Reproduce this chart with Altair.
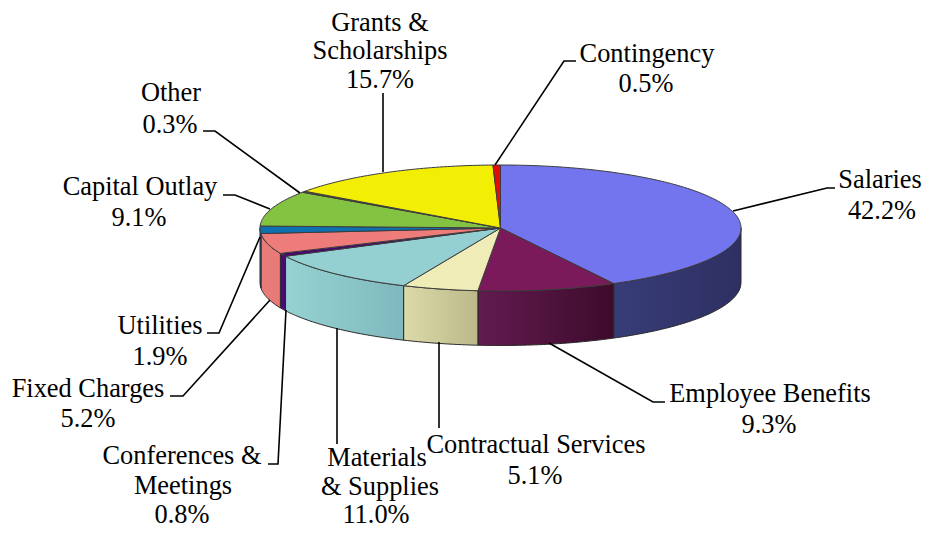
import math
import altair as alt
import pandas as pd

categories = ["Salaries", "Employee Benefits", "Contractual Services", "Materials & Supplies",
              "Conferences & Meetings", "Fixed Charges", "Utilities", "Capital Outlay",
              "Other", "Grants & Scholarships", "Contingency"]
# slice sizes as drawn in the picture (the Grants slice is drawn a little smaller than its label)
shares = [42.2, 9.3, 5.1, 11.0, 0.8, 5.2, 1.9, 9.1, 0.3, 14.6, 0.5]
top_colors = ["#7375ee", "#7a1a5a", "#efecb8", "#94cfd2", "#48066f", "#ee7c7a",
              "#0f70b0", "#84c241", "#6a5a30", "#f2ef05", "#e50c0c"]
wall_left = ["#383d78", "#621b50", "#dcdaa8", "#96d2d2", "#4b0a78", "#e87a78",
             "#0f70b0", "#84c241", "#6a5a30", "#f2ef05", "#e50c0c"]
wall_right = ["#2e2f62", "#3d0b2b", "#bbb98a", "#7fb9be", "#4b0a78", "#e87a78",
              "#0f70b0", "#84c241", "#6a5a30", "#f2ef05", "#e50c0c"]

label_lines = [
    ("Grants &", 380, 31), ("Scholarships", 380, 59), ("15.7%", 380, 88),
    ("Contingency", 647, 62), ("0.5%", 646, 92),
    ("Salaries", 880, 188), ("42.2%", 882, 219),
    ("Employee Benefits", 770, 402), ("9.3%", 769, 433),
    ("Contractual Services", 536, 453), ("5.1%", 535, 484),
    ("Materials", 377, 466), ("& Supplies", 380, 495), ("11.0%", 376, 523),
    ("Conferences &", 182, 464), ("Meetings", 183, 494), ("0.8%", 182, 523),
    ("Fixed Charges", 88, 397), ("5.2%", 88, 427),
    ("Utilities", 160, 334), ("1.9%", 160, 365),
    ("Capital Outlay", 140, 195), ("9.1%", 139, 226),
    ("Other", 171, 101), ("0.3%", 170, 133),
]
leaders = [
    [(383, 93), (383, 172)],
    [(576, 61), (564, 61), (495, 165)],
    [(835, 188), (827, 188), (733, 211)],
    [(665, 402), (653, 402), (549, 343)],
    [(439, 342), (439, 428)],
    [(337, 328), (337, 444)],
    [(268, 464), (278, 464), (286, 310)],
    [(170, 396), (183, 396), (270, 300)],
    [(207, 333), (219, 333), (260, 237)],
    [(223, 195), (235, 195), (270, 209)],
    [(203, 131), (215, 131), (300, 193)],
]

CX, CY, RX, RY, DEPTH = 500.5, 228.0, 240.5, 63.0, 54.5
W, H = 914, 521
xs = alt.Scale(domain=[8, 8 + W], nice=False, zero=False)
ys = alt.Scale(domain=[8 + H, 8], nice=False, zero=False)


def rim(a, dy=0.0):
    r = math.radians(a)
    return CX + RX * math.sin(r), CY - RY * math.cos(r) + dy


def arc(a0, a1):
    n = max(2, int(abs(a1 - a0)) + 2)
    return [a0 + (a1 - a0) * i / (n - 1) for i in range(n)]


def shape(points, fill, stroke, width=1.0):
    df = pd.DataFrame([{"x": p[0], "y": p[1], "o": i} for i, p in enumerate(points)])
    return alt.Chart(df).mark_line(fill=fill, stroke=stroke, strokeWidth=width, strokeJoin="round").encode(
        x=alt.X("x:Q", scale=xs, axis=None),
        y=alt.Y("y:Q", scale=ys, axis=None),
        order="o:Q",
    )


total = sum(shares)
starts, c = [], 0.0
for s in shares:
    starts.append(c)
    c += s / total * 360
ends = starts[1:] + [360.0]

layers = []
for i in range(len(shares)):
    a0, a1 = max(starts[i], 90), min(ends[i], 270)
    if a1 > a0:
        angs = arc(a0, a1)
        pts = [rim(a, 0) for a in angs] + [rim(a, DEPTH) for a in reversed(angs)]
        pts.append(pts[0])
        grad = alt.Gradient(
            gradient="linear", x1=0, x2=1, y1=0, y2=0,
            stops=[alt.GradientStop(color=wall_left[i], offset=0),
                   alt.GradientStop(color=wall_right[i], offset=1)],
        ) if wall_left[i] != wall_right[i] else wall_left[i]
        layers.append(shape(pts, grad, "#2a2a2a"))

for i in range(len(shares)):
    pts = [(CX, CY)] + [rim(a) for a in arc(starts[i], ends[i])] + [(CX, CY)]
    layers.append(shape(pts, top_colors[i], "#3c3c3c"))

for line in leaders:
    df = pd.DataFrame([{"x": p[0], "y": p[1], "o": i} for i, p in enumerate(line)])
    layers.append(alt.Chart(df).mark_line(color="#000000", strokeWidth=1.6).encode(
        x=alt.X("x:Q", scale=xs, axis=None),
        y=alt.Y("y:Q", scale=ys, axis=None),
        order="o:Q",
    ))

labels = pd.DataFrame(label_lines, columns=["t", "x", "y"])
layers.append(alt.Chart(labels).mark_text(
    font="Liberation Serif", fontSize=26.4, color="#000000", align="center", baseline="alphabetic"
).encode(
    x=alt.X("x:Q", scale=xs, axis=None),
    y=alt.Y("y:Q", scale=ys, axis=None),
    text="t:N",
))

chart = alt.layer(*layers).properties(
    width=W, height=H, padding=0, background="#ffffff",
    autosize=alt.AutoSizeParams(type="none"),
).configure_view(stroke=None)

chart.save("out.html", embed_options={"renderer": "svg", "actions": False})
